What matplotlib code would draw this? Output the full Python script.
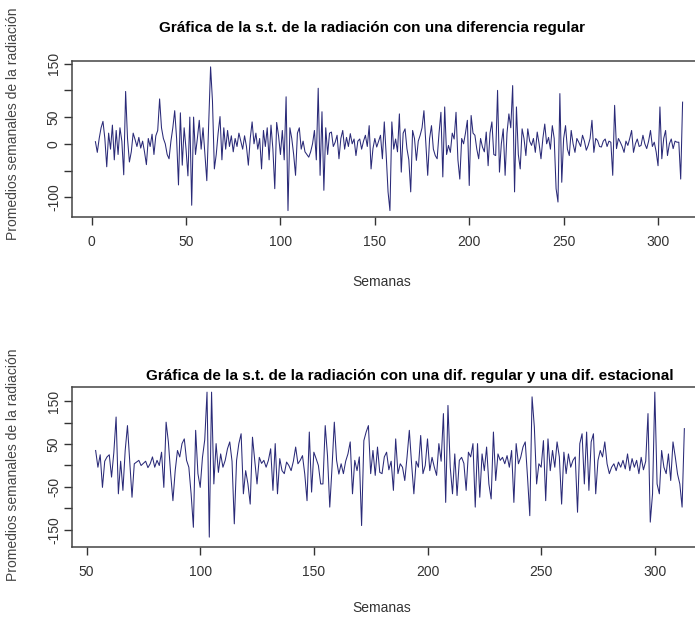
import numpy as np
import matplotlib
matplotlib.use('Agg')
import matplotlib.pyplot as plt

# serie con una diferencia regular (semanas 2..313)
dif1 = [4, -16, 10, 30, 42, 10, -43, 20, -10, 35,
        -30, 25, -20, 30, 5, -58, 98, 10, -34, -15,
        20, 8, -5, 12, -8, 5, -15, -39, 10, -5,
        18, -20, 15, 25, 84, 30, 10, 0, -20, -28,
        5, 30, 62, 10, -77, 58, -40, 30, -10, -60,
        50, -115, 50, -20, 10, 44, -10, 30, -20, -69,
        40, 144, 80, -47, -20, 20, 51, -30, 30, -10,
        25, -5, 15, -15, 10, -5, 20, 5, -10, 15,
        -5, -40, 10, 41, 0, 20, -10, 10, -47, 25,
        -5, 30, -30, 35, -10, -84, 40, 15, -20, 25,
        -30, 88, -125, 30, 10, -20, -59, 20, 30, -10,
        5, -15, -20, -25, -15, 0, 25, -30, 104, -59,
        60, -87, 30, -20, 20, 22, -5, 3, 16, -28,
        10, 25, -10, 12, -5, 19, 0, 9, -22, 5,
        9, -10, 5, 16, -5, 34, -47, -9, 10, -6,
        5, 16, -28, 41, -20, -90, -125, 41, -10, 9,
        -15, 56, -53, 20, 28, -9, -30, -90, 25, 10,
        -31, 5, 16, 30, 62, 3, -59, 10, 34, -10,
        -22, -28, 20, 59, -62, 69, -20, -3, -16, 20,
        9, 59, -30, -66, 10, 0, 20, 44, -78, 53,
        20, 16, -10, -28, 10, -6, -15, 22, -41, 20,
        41, -20, -22, 100, -53, 0, 28, -59, 20, 56,
        30, 109, -90, 69, -20, -47, 28, 10, -22, 28,
        5, -3, 10, -16, 22, 0, -28, 10, 37, 0,
        12, -10, 34, 10, -84, -109, 94, -72, 10, 34,
        -10, -22, 25, 0, -16, 10, 3, -5, 16, 5,
        -12, -3, 10, 44, -16, 10, 6, -5, -6, 5,
        9, -5, 5, 3, -59, 72, -9, 10, 3, -5,
        -16, 5, -3, 10, 25, -16, 0, 9, -5, -3,
        16, 0, -9, 5, 25, -5, 3, -15, -41, 69,
        -28, 10, 25, -22, 0, 9, -9, 5, 3, 3,
        -66, 78]
inicio1 = 2

# serie con una diferencia regular y una estacional (semanas 54..313)
dif2 = [35, -4, 25, -51, 10, 20, 25, -27, 30, 113,
        -66, 10, -58, 35, 93, 10, -74, 4, 8, 12,
        0, 5, 10, -5, 4, 20, -4, 12, 0, 31,
        -51, 101, 55, -19, -82, -12, 35, 20, 51, 62,
        12, -4, -66, -144, 82, -19, -51, 19, 60, 171,
        -167, 171, -43, 51, -16, 27, -4, 12, 39, 55,
        10, -136, 12, 51, 74, -66, -12, -43, -90, 66,
        12, -43, 19, 5, 12, -4, 12, 39, -58, 51,
        -66, 16, -12, -19, 8, 0, -12, 10, 43, 4,
        12, 23, -20, -82, 78, -62, 31, 16, 0, -43,
        -43, 93, 23, -97, -4, 101, 12, -20, 4, -19,
        10, 27, 55, -66, 12, -12, 20, -140, 58, 78,
        93, -19, 35, -23, 43, -16, -19, 20, 31, -10,
        10, -58, 62, -19, 4, -4, -35, 20, 82, 4,
        -66, 10, -4, 70, -19, 0, 62, -12, 19, -4,
        -23, 51, 10, 121, -86, 140, -4, -66, 27, -70,
        12, 19, 5, -58, 31, 20, 51, -97, 51, -74,
        27, -12, 43, -43, -78, 78, -35, 27, 12, 19,
        4, 23, -4, 35, -86, 51, 4, 19, 43, 55,
        -27, -117, 160, 90, -43, 4, -4, 58, -82, 62,
        -12, 35, -4, 55, 20, -90, 31, -19, 27, -4,
        12, 20, -109, 51, 74, -43, 78, -58, 55, 74,
        -66, 12, 35, 20, 55, 4, -19, -4, 4, -12,
        8, -4, 12, -8, 27, -12, 16, -4, 12, -19,
        19, -10, 10, 121, -132, -66, 171, -43, -66, 35,
        -4, -19, 27, -35, 55, 20, -20, -43, -97, 86]
inicio2 = 54

ticks_x1 = [0, 50, 100, 150, 200, 250, 300]
ticks_y1 = [150, 100, 50, 0, -50, -100]
etiq_y1 = ['150', '', '50', '0', '', '-100']
ticks_x2 = [50, 100, 150, 200, 250, 300]
ticks_y2 = [150, 100, 50, 0, -50, -100, -150]
etiq_y2 = ['150', '', '50', '', '-50', '', '-150']

titulo1 = 'Gráfica de la s.t. de la radiación con una diferencia regular'
titulo2 = 'Gráfica de la s.t. de la radiación con una dif. regular y una dif. estacional'
eje_x = 'Semanas'
eje_y = 'Promedios semanales de la radiación'

fuente = ['Liberation Sans', 'DejaVu Sans']

W, H = 695, 619
fig = plt.figure(figsize=(W / 100, H / 100), dpi=100)


def panel(rect, serie, inicio, xlim, ylim, tx, ty, ey):
    ax = fig.add_axes(rect)
    t = np.arange(inicio, inicio + len(serie))
    ax.plot(t, serie, color='#2a2a78', lw=0.75)
    ax.set_xlim(*xlim)
    ax.set_ylim(*ylim)
    ax.set_xticks(tx)
    ax.set_xticklabels([str(v) for v in tx], family=fuente, fontsize=10, color='#333333')
    ax.set_yticks(ty)
    ax.set_yticklabels(ey, family=fuente, fontsize=10, rotation=90, va='center', color='#333333')
    ax.tick_params(direction='out', length=6, width=1, color='#333333')
    ax.tick_params(axis='x', pad=7)
    ax.tick_params(axis='y', pad=2)
    for s in ax.spines.values():
        s.set_color('#444444')
        s.set_linewidth(1.1)
    return ax


# coordenadas en pixeles -> fracciones de figura
def rect_px(x0, y0, x1, y1):
    return [x0 / W, 1 - y1 / H, (x1 - x0) / W, (y1 - y0) / H]


panel(rect_px(72, 61, 706, 217), dif1, inicio1, (-10.4, 325.4), (-137, 155),
      ticks_x1, ticks_y1, etiq_y1)
panel(rect_px(72, 387, 708, 547), dif2, inicio2, (43.6, 323.4), (-190, 183),
      ticks_x2, ticks_y2, etiq_y2)

fig.text(372 / W, 1 - 28 / H, titulo1, ha='center', va='center',
         family=fuente, fontsize=11, fontweight='bold')
fig.text(410 / W, 1 - 376 / H, titulo2, ha='center', va='center',
         family=fuente, fontsize=11, fontweight='bold')
for yc in (282, 608):
    fig.text(382 / W, 1 - yc / H, eje_x, ha='center', va='center',
             family=fuente, fontsize=10, color='#333333')
for yc in (124, 465):
    fig.text(13 / W, 1 - yc / H, eje_y, ha='center', va='center', rotation=90,
             family=fuente, fontsize=10, color='#444444')

fig.savefig('out.png', dpi=100)
